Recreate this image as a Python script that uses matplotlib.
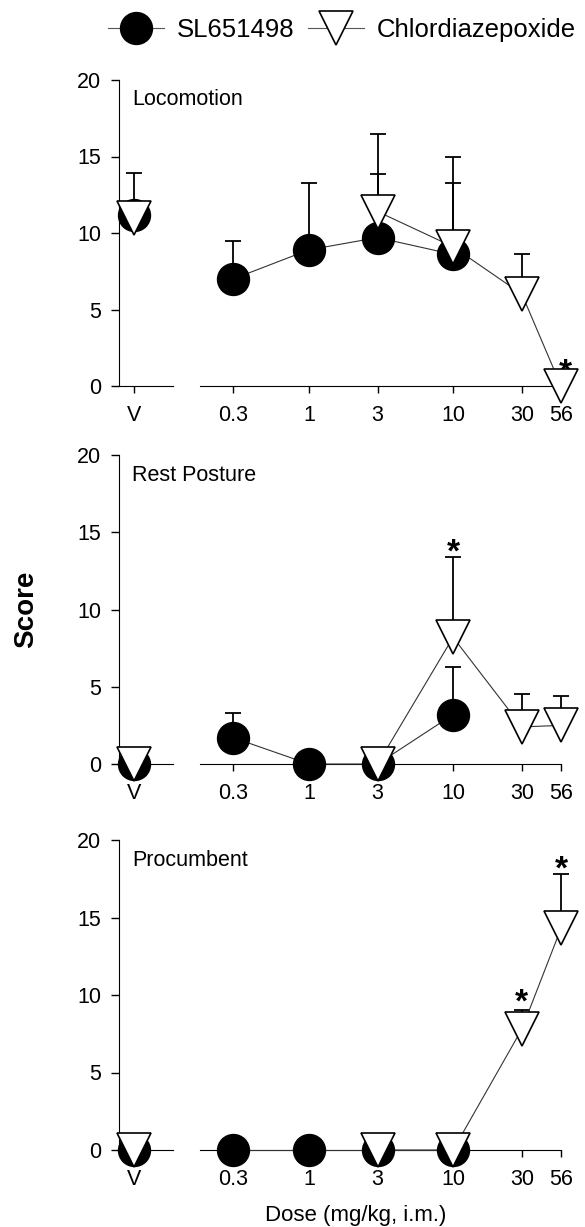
import numpy as np
import matplotlib
matplotlib.use("Agg")
import matplotlib.pyplot as plt
from matplotlib.lines import Line2D

plt.rcParams['font.family'] = ['Liberation Sans', 'DejaVu Sans']

# doses (mg/kg, i.m.)
doses_sl = [0.3, 1, 3, 10]
doses_cdp = [3, 10, 30, 56]
dose_ticks = [0.3, 1, 3, 10, 30, 56]
dose_labels = ['0.3', '1', '3', '10', '30', '56']

panel_names = ['Locomotion', 'Rest Posture', 'Procumbent']

# vehicle (V) values per panel
sl_veh = [11.2, 0, 0]
sl_veh_err = [2.7, 0, 0]
cdp_veh = [11.0, 0, 0]
cdp_veh_err = [0, 0, 0]

# SL651498 means and SEM (upper bars) per panel
sl_mean = [[7.0, 8.9, 9.7, 8.6],
           [1.7, 0, 0, 3.2],
           [0, 0, 0, 0]]
sl_err = [[2.5, 4.4, 4.15, 4.7],
          [1.6, 0, 0, 3.1],
          [0, 0, 0, 0]]

# chlordiazepoxide means and SEM per panel
cdp_mean = [[11.4, 9.1, 6.0, 0],
            [0, 8.2, 2.4, 2.5],
            [0, 0, 7.8, 14.3]]
cdp_err = [[5.05, 5.9, 2.6, 0],
           [0, 5.2, 2.1, 1.9],
           [0, 0, 1.25, 3.5]]

# significance asterisks (dose, score)
stars = [[(56, 1.5)], [(10, 14.3)], [(30, 10.1), (56, 18.7)]]

W, H = 585, 1227
fig = plt.figure(figsize=(W / 100, H / 100), dpi=100)

rows = [(80, 386), (455, 764), (840, 1150)]
left_x = (119, 173)
right_x = (200, 561)
v_pos = 0.28

ms_c = 23
ms_t = 24
line_kw = dict(color='#333333', lw=0.8)
cap = 5.5


def upper_err(ax, x, y, e, z):
    x = np.array(x, float); y = np.array(y, float); e = np.array(e, float)
    m = e > 0
    if m.any():
        ax.errorbar(x[m], y[m], yerr=[np.zeros(m.sum()), e[m]], fmt='none',
                    ecolor='black', elinewidth=1.3, capsize=cap, capthick=1.3,
                    zorder=z, clip_on=False)


for i, (top, bot) in enumerate(rows):
    b = 1 - bot / H
    h = (bot - top) / H
    axl = fig.add_axes([left_x[0] / W, b, (left_x[1] - left_x[0]) / W, h])
    axr = fig.add_axes([right_x[0] / W, b, (right_x[1] - right_x[0]) / W, h])

    for ax in (axl, axr):
        ax.set_ylim(0, 20)
        ax.spines['top'].set_visible(False)
        ax.spines['right'].set_visible(False)
        ax.patch.set_visible(False)
        ax.tick_params(axis='x', direction='out', length=5, width=1,
                       labelsize=15.5, pad=9)
    axr.spines['left'].set_visible(False)
    axr.tick_params(axis='y', left=False, labelleft=False)
    axl.tick_params(axis='y', direction='out', length=6, width=1,
                    labelsize=15.5, pad=7)
    axl.set_yticks([0, 5, 10, 15, 20])

    # vehicle axis
    axl.set_xlim(0, 1)
    axl.set_xticks([v_pos])
    axl.set_xticklabels(['V'])
    upper_err(axl, [v_pos], [sl_veh[i]], [sl_veh_err[i]], 2)
    upper_err(axl, [v_pos], [cdp_veh[i]], [cdp_veh_err[i]], 2)
    axl.plot([v_pos], [sl_veh[i]], 'o', ms=ms_c, mfc='black', mec='black',
             zorder=4, clip_on=False)
    axl.plot([v_pos], [cdp_veh[i]], 'v', ms=ms_t, mfc='white', mec='black',
             mew=1.2, zorder=5, clip_on=False)
    axl.text(0.24, 0.935, panel_names[i], transform=axl.transAxes,
             fontsize=15.5, ha='left', va='center', clip_on=False)

    # dose axis (log)
    axr.set_xscale('log')
    axr.set_xlim(0.176, 56)
    axr.set_xticks(dose_ticks)
    axr.set_xticklabels(dose_labels)
    axr.xaxis.set_minor_locator(matplotlib.ticker.NullLocator())
    upper_err(axr, doses_sl, sl_mean[i], sl_err[i], 2)
    upper_err(axr, doses_cdp, cdp_mean[i], cdp_err[i], 2)
    axr.plot(doses_sl, sl_mean[i], '-', **line_kw, zorder=3, clip_on=False)
    axr.plot(doses_cdp, cdp_mean[i], '-', **line_kw, zorder=3, clip_on=False)
    axr.plot(doses_sl, sl_mean[i], 'o', ms=ms_c, mfc='black', mec='black',
             zorder=4, clip_on=False)
    axr.plot(doses_cdp, cdp_mean[i], 'v', ms=ms_t, mfc='white', mec='black',
             mew=1.2, zorder=5, clip_on=False)

    fs_star = 24
    for (dx, dy) in stars[i]:
        axr.annotate('*', xy=(dx, dy), xytext=(3 if i == 0 else 0, -0.55 * fs_star),
                     textcoords='offset points', ha='center', va='baseline',
                     fontsize=fs_star, fontweight='bold', annotation_clip=False)

fig.text(26 / W, 1 - 609 / H, 'Score', rotation=90, fontsize=20,
         fontweight='bold', ha='center', va='center')
fig.text(356 / W, 1 - 1215 / H, 'Dose (mg/kg, i.m.)', fontsize=16,
         ha='center', va='center')

handles = [Line2D([], [], color='#555555', lw=0.8, marker='o', ms=ms_c,
                  mfc='black', mec='black'),
           Line2D([], [], color='#555555', lw=0.8, marker='v', ms=ms_t,
                  mfc='white', mec='black', mew=1.2)]
fig.legend(handles, ['SL651498', 'Chlordiazepoxide'], loc='center',
           bbox_to_anchor=(342 / W, 1 - 30 / H), ncol=2, frameon=False,
           fontsize=18.5, handlelength=2.2, handletextpad=0.5,
           columnspacing=0.5, borderaxespad=0)

fig.savefig('out.png', dpi=100)
